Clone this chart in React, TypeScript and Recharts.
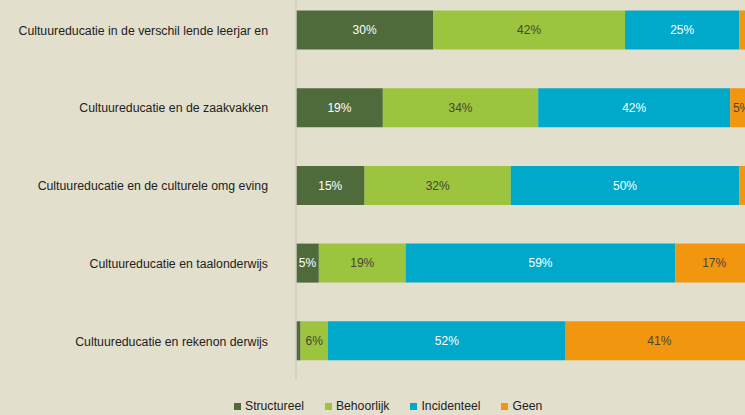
import { BarChart, Bar, XAxis, YAxis, LabelList, Legend } from 'recharts';

const categories = [
  'Cultuureducatie in de verschil lende leerjar en',
  'Cultuureducatie en de zaakvakken',
  'Cultuureducatie en de culturele omg eving',
  'Cultuureducatie en taalonderwijs',
  'Cultuureducatie en rekenon derwijs',
];

const structureel = [30, 19, 15, 5, 1];
const behoorlijk = [42, 34, 32, 19, 6];
const incidenteel = [25, 42, 50, 59, 52];
const geen = [3, 5, 3, 17, 41];

const series = [
  { key: 'structureel', name: 'Structureel', color: '#4f6b3c', text: '#ffffff' },
  { key: 'behoorlijk', name: 'Behoorlijk', color: '#9cc43e', text: '#45463a' },
  { key: 'incidenteel', name: 'Incidenteel', color: '#00a9c9', text: '#ffffff' },
  { key: 'geen', name: 'Geen', color: '#f3960f', text: '#45463a' },
];

const data = categories.map((name, i) => ({
  name,
  structureel: structureel[i],
  behoorlijk: behoorlijk[i],
  incidenteel: incidenteel[i],
  geen: geen[i],
}));

const FONT = '"Liberation Sans", Arial, sans-serif';
const BG = '#e2dfcc';

// small segments (< 4%) get no label, like the original
const pct = (v: any) => (Number(v) >= 4 ? `${v}%` : '');

function LegendContent() {
  return (
    <div style={{ display: 'flex', alignItems: 'center', fontFamily: FONT, fontSize: 12.2, color: '#222' }}>
      {series.map(s => (
        <div key={s.key} style={{ display: 'flex', alignItems: 'center', marginRight: 21 }}>
          <span style={{ width: 7, height: 7, background: s.color, marginRight: 4, display: 'inline-block' }} />
          <span>{s.name}</span>
        </div>
      ))}
    </div>
  );
}

export default function App() {
  return (
    <div
      style={{
        position: 'absolute',
        left: 0,
        top: 0,
        width: 745,
        height: 415,
        overflow: 'hidden',
        background: BG,
      }}
    >
      <div style={{ position: 'absolute', left: 0, top: -20 }}>
        <BarChart
          layout="vertical"
          width={770}
          height={440}
          data={data}
          margin={{ top: 11.5, right: 17, bottom: 40, left: 0 }}
        >
          <XAxis type="number" domain={[0, 100]} hide />
          <YAxis
            type="category"
            dataKey="name"
            width={296}
            tickLine={false}
            tickSize={0}
            tickMargin={28}
            axisLine={{ stroke: '#d0cdc0', strokeWidth: 1.5 }}
            tick={{ fill: '#222', fontSize: 12.3, fontFamily: FONT }}
            interval={0}
          />
          <Legend
            layout="horizontal"
            verticalAlign="middle"
            align="center"
            content={LegendContent}
            wrapperStyle={{ position: 'absolute', left: 234, top: 419, width: 'auto' }}
          />
          {series.map(s => (
            <Bar
              key={s.key}
              dataKey={s.key}
              name={s.name}
              stackId="a"
              fill={s.color}
              barSize={39}
              isAnimationActive={false}
            >
              <LabelList
                dataKey={s.key}
                position="center"
                formatter={pct}
                fill={s.text}
                style={{ fontSize: 12, fontFamily: FONT }}
              />
            </Bar>
          ))}
        </BarChart>
      </div>
    </div>
  );
}
